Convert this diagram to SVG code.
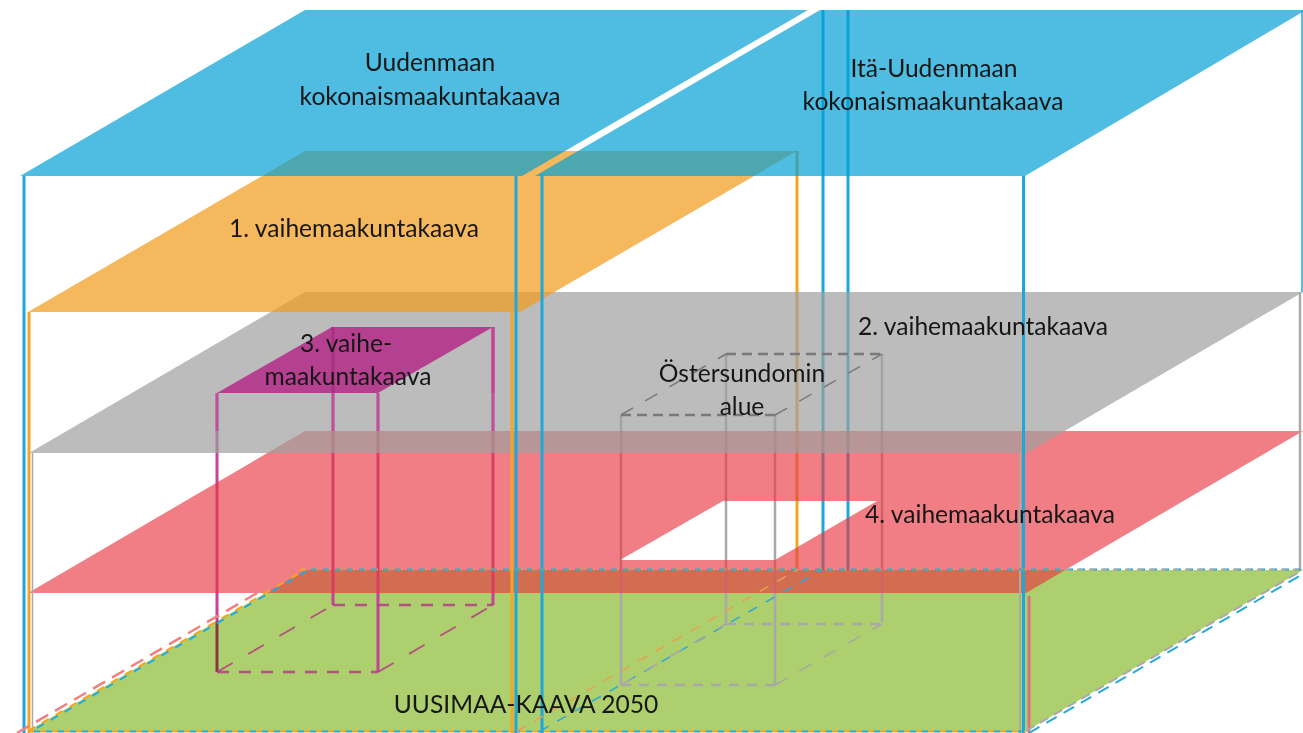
<svg xmlns="http://www.w3.org/2000/svg" width="1303" height="733" viewBox="0 0 1303 733">
<style>
.t{font-family:Lato,"Open Sans","DejaVu Sans",sans-serif;font-size:24.6px;fill:#161616;text-anchor:middle}
.bl{stroke:#1ea8da;stroke-width:3;fill:none}
.or{stroke:#f5a524;stroke-width:3;fill:none}
.gr{stroke:#a9a9a9;stroke-width:2.5;fill:none}
.mg{stroke:#c4449a;stroke-width:3;fill:none}
</style>
<rect width="1303" height="733" fill="#ffffff"/>
<g id="plane-green"><polygon points="28,731 1026,731 1303,570 305,570" fill="#adcf6d"/></g>
<g id="back-lines">
<line class="or" x1="797" y1="151" x2="797" y2="570"/>
<line class="bl" x1="823" y1="10" x2="823" y2="570"/>
<line class="bl" x1="848" y1="10" x2="848" y2="570"/>
<line class="mg" x1="217" y1="393" x2="217" y2="672" style="mix-blend-mode:multiply"/>
<line class="mg" x1="378" y1="393" x2="378" y2="672"/>
<line class="mg" x1="333" y1="327" x2="333" y2="605"/>
<line class="mg" x1="493" y1="327" x2="493" y2="605"/>
<line class="gr" x1="621" y1="415" x2="621" y2="685"/>
<line class="gr" x1="775" y1="415" x2="775" y2="685"/>
<line class="gr" x1="726" y1="354" x2="726" y2="624"/>
<line class="gr" x1="882" y1="354" x2="882" y2="622"/>
</g>
<g id="plane-red"><path d="M28,593 L1026,593 L1303,431 L305,431 Z M620,560 L775,560 L877,501 L723,501 Z" fill="rgb(232,57,66)" fill-opacity="0.65" fill-rule="evenodd"/></g>
<g id="plane-gray"><polygon points="29,453 1027,453 1303,292 305,292" fill="rgb(160,160,160)" fill-opacity="0.7"/></g>
<g id="box-3">
<line class="mg" x1="217" y1="393" x2="217" y2="431" stroke-opacity="0.8"/>
<line class="mg" x1="378" y1="393" x2="378" y2="431" stroke-opacity="0.8"/>
<line class="mg" x1="333" y1="327" x2="333" y2="431" stroke-opacity="0.8"/>
<line class="mg" x1="493" y1="327" x2="493" y2="431" stroke-opacity="0.8"/>
<polygon points="217,393 378,393 493,327 332,327" fill="#b5408f"/>
<line x1="333" y1="327" x2="333" y2="393" stroke="#a8307e" stroke-width="3"/>
<line x1="493" y1="327" x2="493" y2="393" stroke="#c4449a" stroke-width="3"/>
</g>
<g id="plane-orange"><polygon points="28,312 520,312 797,151 305,151" fill="rgb(242,156,29)" fill-opacity="0.72"/></g>
<g id="plane-blue-left"><polygon points="20,176 522,176 808,10 305,10" fill="rgb(0,159,213)" fill-opacity="0.69"/></g>
<g id="plane-blue-right"><polygon points="535,176 1025,176 1306,10 820,10" fill="rgb(0,159,213)" fill-opacity="0.69"/></g>
<g id="front-lines">
<line class="bl" x1="24" y1="176" x2="24" y2="733"/>
<line class="or" x1="29" y1="312" x2="29" y2="733"/>
<line x1="32.5" y1="453" x2="32.5" y2="733" stroke="#aaaaaa" stroke-width="1.5"/>
<line class="or" x1="512" y1="312" x2="512" y2="733"/>
<line class="bl" x1="516" y1="176" x2="516" y2="733"/>
<line class="bl" x1="542" y1="174" x2="542" y2="733"/>
<line x1="1020" y1="453" x2="1020" y2="733" stroke="#a9a9a9" stroke-width="2"/>
<line class="bl" x1="1023.5" y1="176" x2="1023.5" y2="733" stroke-width="3.5"/>
<line x1="1029" y1="596" x2="1029" y2="733" stroke="#e0707a" stroke-width="3"/>
<line x1="1302" y1="10" x2="1302" y2="292" stroke="#1ea8da" stroke-width="1.5"/>
<line x1="1300" y1="292" x2="1300" y2="570" stroke="#a9a9a9" stroke-width="2.5"/>
</g>
<g id="dashed-outlines">
<line x1="17" y1="733" x2="300" y2="568" stroke="#f08080" stroke-width="2.5" stroke-dasharray="14 8"/>
<line x1="28" y1="731" x2="305" y2="570" stroke="#f5a524" stroke-width="2" stroke-dasharray="8 8"/>
<line x1="30" y1="732" x2="307" y2="571" stroke="#29a9d8" stroke-width="2" stroke-dasharray="8 8" stroke-dashoffset="8"/>
<line x1="300" y1="569.5" x2="1065" y2="569.5" stroke="#f5a524" stroke-width="2" stroke-dasharray="6 6"/>
<line x1="305" y1="569.5" x2="1303" y2="569.5" stroke="#29a9d8" stroke-width="2" stroke-dasharray="6 6" stroke-dashoffset="6"/>
<line x1="1065" y1="569.5" x2="1303" y2="569.5" stroke="#a9a9a9" stroke-width="2" stroke-dasharray="6 6"/>
<line x1="28" y1="731.5" x2="1026" y2="731.5" stroke="#f5a524" stroke-width="2" stroke-dasharray="6 6"/>
<line x1="28" y1="731.5" x2="1026" y2="731.5" stroke="#29a9d8" stroke-width="2" stroke-dasharray="6 6" stroke-dashoffset="6"/>
<line x1="1026" y1="731" x2="1303" y2="570" stroke="#a9a9a9" stroke-width="2" stroke-dasharray="10 6"/>
<line x1="1029" y1="733" x2="1303" y2="574" stroke="#29a9d8" stroke-width="2" stroke-dasharray="12 8"/>
<line x1="517" y1="731" x2="797" y2="570" stroke="#e8a050" stroke-width="1.5" stroke-dasharray="10 10"/>
<line x1="540" y1="731" x2="822" y2="570" stroke="#29a9d8" stroke-width="1.5" stroke-dasharray="10 10"/>
</g>
<g id="box-3-base" stroke="#b43c86" stroke-opacity="0.85" fill="none">
<line x1="217" y1="672" x2="378" y2="672" stroke-width="2.5" stroke-dasharray="12 10"/>
<line x1="333" y1="605" x2="493" y2="605" stroke-width="2.5" stroke-dasharray="12 10"/>
<line x1="217" y1="672" x2="333" y2="605" stroke-width="1.8" stroke-dasharray="18 18"/>
<line x1="378" y1="672" x2="493" y2="605" stroke-width="1.8" stroke-dasharray="18 18"/>
</g>
<g id="box-ostersundom" fill="none">
<line x1="621" y1="415" x2="775" y2="415" stroke="#7a7a7a" stroke-width="2.5" stroke-dasharray="10 6"/>
<line x1="726" y1="354" x2="882" y2="354" stroke="#7a7a7a" stroke-width="2.5" stroke-dasharray="10 6"/>
<line x1="621" y1="415" x2="726" y2="354" stroke="#7a7a7a" stroke-width="1.5" stroke-dasharray="14 14"/>
<line x1="775" y1="415" x2="882" y2="354" stroke="#7a7a7a" stroke-width="1.5" stroke-dasharray="14 14"/>
<line x1="621" y1="685" x2="775" y2="685" stroke="#a8a8a8" stroke-width="2.5" stroke-dasharray="10 8"/>
<line x1="726" y1="624" x2="882" y2="624" stroke="#a8a8a8" stroke-width="2.5" stroke-dasharray="10 8"/>
<line x1="621" y1="685" x2="726" y2="624" stroke="#a8a8a8" stroke-width="1.5" stroke-dasharray="14 14"/>
<line x1="775" y1="685" x2="882" y2="624" stroke="#a8a8a8" stroke-width="1.5" stroke-dasharray="14 14"/>
</g>
<g id="labels">
<text class="t" x="430" y="71">Uudenmaan</text>
<text class="t" x="430" y="105">kokonaismaakuntakaava</text>
<text class="t" x="934" y="77">Itä-Uudenmaan</text>
<text class="t" x="933" y="110">kokonaismaakuntakaava</text>
<text class="t" x="354" y="237">1. vaihemaakuntakaava</text>
<text class="t" x="346" y="352">3. vaihe-</text>
<text class="t" x="348" y="385">maakuntakaava</text>
<text class="t" x="983" y="335">2. vaihemaakuntakaava</text>
<text class="t" x="742" y="382">Östersundomin</text>
<text class="t" x="742" y="415">alue</text>
<text class="t" x="990" y="523">4. vaihemaakuntakaava</text>
<text class="t" x="526" y="713">UUSIMAA-KAAVA 2050</text>
</g>
</svg>
